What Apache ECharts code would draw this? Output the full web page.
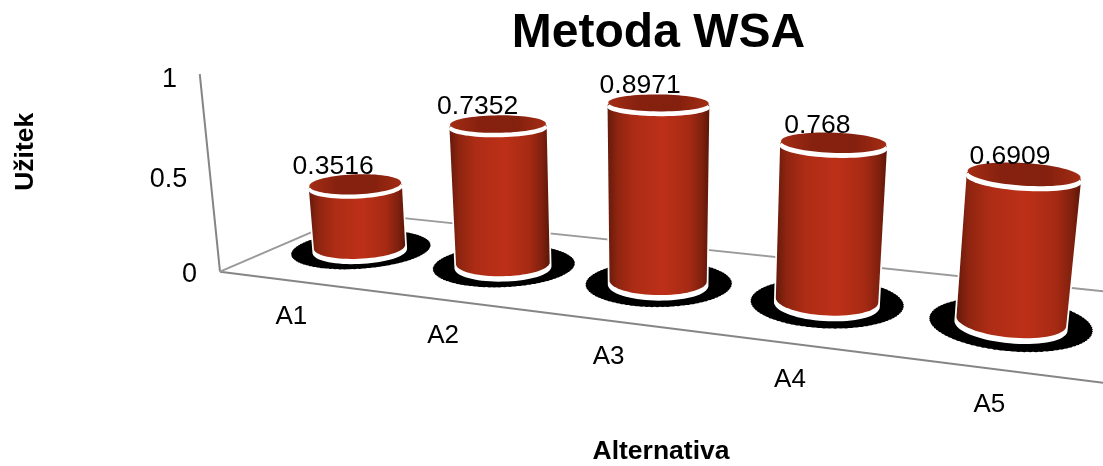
<!DOCTYPE html>
<html>
<head>
<meta charset="utf-8">
<style>html,body{margin:0;padding:0;background:#fff}#chart{width:1103px;height:466px}</style>
<script src="https://cdn.jsdelivr.net/npm/echarts@6/dist/echarts.min.js"></script>
</head>
<body>
<div id="chart"></div>
<script>
// Chart content
const chartTitle = 'Metoda WSA';
const xAxisTitle = 'Alternativa';
const yAxisTitle = 'Užitek';
const categories = ['A1', 'A2', 'A3', 'A4', 'A5'];
const benefitValues = [0.3516, 0.7352, 0.8971, 0.768, 0.6909];
const yTicks = [0, 0.5, 1];

const FONT = '"Liberation Sans", Arial, sans-serif';
const GREY = '#858585';

// Perspective camera: world X runs along the categories (one unit per band),
// Y is the value axis, Z is the depth of the floor (0 front, 1 back).
const cam = {
  ox: 220, oy: 271.7,
  xx: 130.7, xy: 6.51, xw: -0.0407,
  yx: -28.9, yy: -199, yw: -0.0444,
  zx: 195, zy: -23.2, zw: 0.166
};
const project = (X, Y, Z) => {
  const d = 1 + cam.xw * X + cam.yw * Y + cam.zw * Z;
  return [
    (cam.ox + cam.xx * X + cam.yx * Y + cam.zx * Z) / d,
    (cam.oy + cam.xy * X + cam.yy * Y + cam.zy * Z) / d
  ];
};

// Floor extents and cylinder proportions in world units
const FLOOR_X = 5.05, AXIS_TOP = 1.01, BAND_SHIFT = 0.026, BAR_Z = 0.47, RX = 0.285, RZ = 0.185;
const SHADOW_RX = 0.42, SHADOW_RZ = 0.3, SHADOW_Z = 0.49, SHADOW_DX = -0.006;
const CAP_RIM = 0.014, CAP_LIP = 0.007, FOOT_RIM = 0.02;

// Converts a point from the flat grid into world X and Y
const toWorld = (coordSys, point, band) => ({
  X: (point[0] - coordSys.x) / band + BAND_SHIFT,
  Y: (coordSys.y + coordSys.height - point[1]) / coordSys.height
});

const circle = (X, Y, scale) => {
  const pts = [];
  for (let k = 0; k < 72; k++) {
    const t = Math.PI * 2 * k / 72;
    pts.push(project(X + RX * scale * Math.cos(t), Y, BAR_Z + RZ * scale * Math.sin(t)));
  }
  return pts;
};

// Floor shadow: slightly ragged disc around the foot of a cylinder
const shadowDisc = X => {
  const pts = [];
  for (let k = 0; k < 180; k++) {
    const t = Math.PI * 2 * k / 180;
    const s = k % 2 ? 1.012 : 1;
    pts.push(project(X + SHADOW_DX + SHADOW_RX * s * Math.cos(t), 0, SHADOW_Z + SHADOW_RZ * s * Math.sin(t)));
  }
  return pts;
};

// Monotone chain hull, gives the outline of a cylinder from its two end circles
const hull = pts => {
  const p = pts.slice().sort((a, b) => a[0] - b[0] || a[1] - b[1]);
  const cross = (o, a, b) => (a[0] - o[0]) * (b[1] - o[1]) - (a[1] - o[1]) * (b[0] - o[0]);
  const half = list => {
    const out = [];
    for (const q of list) {
      while (out.length > 1 && cross(out[out.length - 2], out[out.length - 1], q) <= 0) out.pop();
      out.push(q);
    }
    out.pop();
    return out;
  };
  return half(p).concat(half(p.reverse()));
};

const text = (str, pos, size, align) => ({
  type: 'text',
  silent: true,
  style: {
    text: str, x: pos[0], y: pos[1], fill: '#000',
    fontFamily: FONT, fontSize: size, align: align || 'center', verticalAlign: 'middle'
  }
});

const Gradient = echarts.graphic.LinearGradient;
const bodyFill = () => new Gradient(0, 0, 1, 0, [
  { offset: 0, color: '#661a0b' },
  { offset: 0.1, color: '#8f2510' },
  { offset: 0.26, color: '#ad2c15' },
  { offset: 0.55, color: '#bd3018' },
  { offset: 0.8, color: '#a62a13' },
  { offset: 0.93, color: '#7e200e' },
  { offset: 1, color: '#5c1608' }
]);
const capFill = () => new Gradient(0, 0, 1, 0, [
  { offset: 0, color: '#a42c14' },
  { offset: 0.3, color: '#86210f' },
  { offset: 0.7, color: '#84200e' },
  { offset: 1, color: '#a42c14' }
]);

// Walls and floor outline, with the value tick labels next to the axis
function renderFrame(params, api) {
  const line = (a, b, width, color) => ({
    type: 'line',
    shape: { x1: a[0], y1: a[1], x2: b[0], y2: b[1] },
    style: { stroke: color || GREY, lineWidth: width }
  });
  const O = project(0, 0, 0);
  const children = [
    line(project(0, AXIS_TOP, 0), O, 2),
    line(O, project(FLOOR_X, 0, 0), 2),
    line(O, project(0, 0, 1), 2, '#9a9a9a'),
    line(project(0, 0, 1), project(FLOOR_X, 0, 1), 2, '#9a9a9a')
  ];
  yTicks.forEach(v => {
    const p = project(0, v, 0);
    children.push(text(String(v), [p[0] - 23, p[1] + 3], 27, 'right'));
  });
  return { type: 'group', children };
}

// One cylinder with its floor shadow, value label and category label
function renderBar(params, api) {
  const cs = params.coordSys;
  const band = api.size([1, 0])[0];
  const idx = api.value(0);
  const value = api.value(1);
  const top = toWorld(cs, api.coord([idx, value]), band);
  const X = top.X, Y = top.Y;

  const labelAt = project(X, Y, BAR_Z);
  const labelShift = -22.5 + (labelAt[0] - 356) * 0.0138;
  const footLabel = project(X - BAND_SHIFT, 0, 0);

  return {
    type: 'group',
    children: [
      { type: 'polygon', shape: { points: shadowDisc(X) }, style: { fill: '#000' } },
      // white silhouette: shows as a thin edge along the sides and a crescent at the foot
      {
        type: 'polygon',
        shape: { points: hull(circle(X, Y, 1).concat(circle(X, 0, 1))) },
        style: { fill: '#fff', stroke: '#fff', lineWidth: 3 }
      },
      {
        type: 'polygon',
        shape: { points: hull(circle(X, Y, 1).concat(circle(X, FOOT_RIM, 0.995))) },
        style: { fill: bodyFill() }
      },
      { type: 'polygon', shape: { points: circle(X, Y - CAP_LIP, 1.01) }, style: { fill: '#fff' } },
      { type: 'polygon', shape: { points: circle(X, Y + CAP_RIM, 0.985) }, style: { fill: capFill() } },
      text(String(value), [labelAt[0] + labelShift, labelAt[1] - 20], 26.5),
      text(categories[idx], [footLabel[0], footLabel[1] + 36], 26)
    ]
  };
}

const chart = echarts.init(document.getElementById('chart'), null, { renderer: 'canvas' });
chart.setOption({
  animation: false,
  backgroundColor: '#fff',
  title: {
    text: chartTitle,
    left: 653.5,
    top: 5,
    textAlign: 'center',
    textStyle: { fontFamily: FONT, fontSize: 48, fontWeight: 'bold', color: '#000' }
  },
  grid: { left: 220, right: 1, top: 46, height: 226 },
  xAxis: {
    type: 'category',
    data: categories,
    name: xAxisTitle,
    nameLocation: 'middle',
    nameGap: 194,
    nameTextStyle: { fontFamily: FONT, fontSize: 26.5, fontWeight: 'bold', color: '#000', verticalAlign: 'middle' },
    axisLine: { show: false }, axisTick: { show: false }, axisLabel: { show: false }
  },
  yAxis: {
    type: 'value',
    min: 0,
    max: 1,
    interval: 0.5,
    name: yAxisTitle,
    nameLocation: 'middle',
    nameRotate: 90,
    nameGap: 194,
    nameTextStyle: { fontFamily: FONT, fontSize: 26.5, fontWeight: 'bold', color: '#000', verticalAlign: 'middle' },
    axisLine: { show: false }, axisTick: { show: false }, axisLabel: { show: false }, splitLine: { show: false }
  },
  series: [
    { type: 'custom', silent: true, z: 1, data: [[0, 0]], renderItem: renderFrame },
    {
      type: 'custom',
      silent: true,
      z: 2,
      clip: false,
      encode: { x: 0, y: 1 },
      data: categories.map((c, i) => [c, benefitValues[i]]),
      renderItem: renderBar
    }
  ]
});
</script>
</body>
</html>
